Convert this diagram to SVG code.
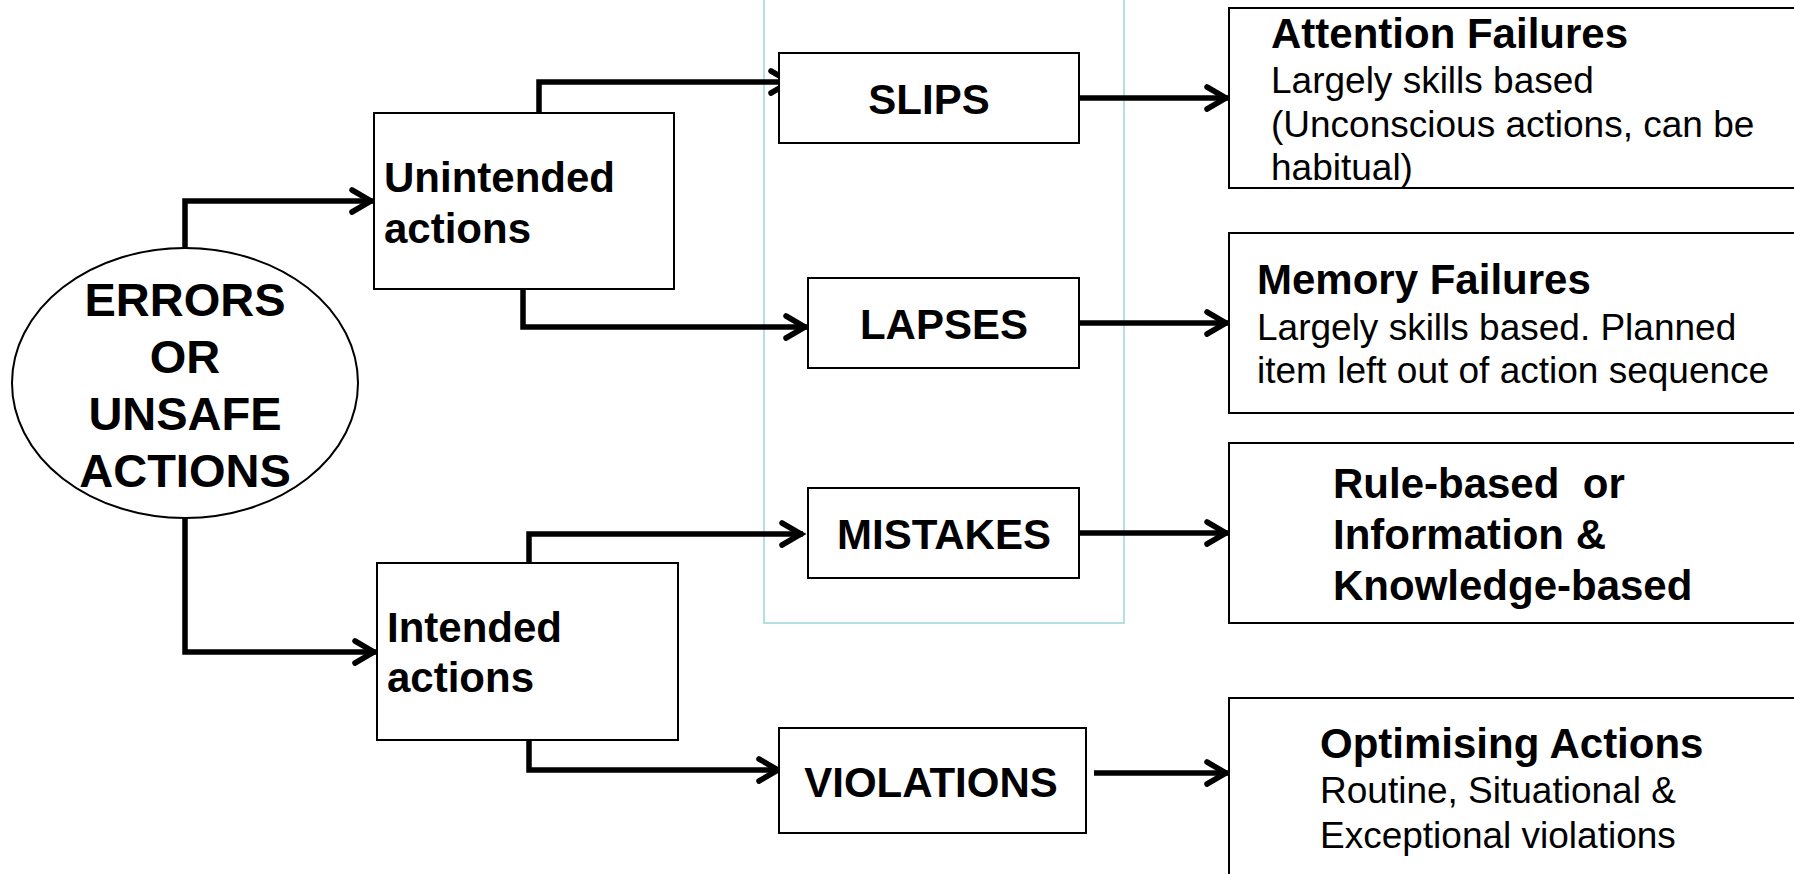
<svg xmlns="http://www.w3.org/2000/svg" width="1794" height="874" viewBox="0 0 1794 874">
  <style>
    .box { fill: #ffffff; stroke: #000000; stroke-width: 2; }
    .frame { fill: none; stroke: #b4dfe3; stroke-width: 2; }
    .wire { fill: none; stroke: #000000; stroke-width: 5.5; stroke-linejoin: miter; }
    .t { font-family: "Liberation Sans", Arial, sans-serif; fill: #000000; }
    .big { font-size: 47px; font-weight: bold; }
    .head { font-size: 42px; font-weight: bold; }
    .body { font-size: 37px; }
    .pre { white-space: pre; }
  </style>
  <defs>
    <marker id="chevron" markerUnits="userSpaceOnUse" markerWidth="30" markerHeight="30" viewBox="-26 -15 30 30" refX="0" refY="0" orient="auto" overflow="visible">
      <path d="M-21,-11 L-2,0 L-21,11" fill="none" stroke="#000000" stroke-width="5.5" stroke-linecap="round" stroke-linejoin="miter"/>
    </marker>
  </defs>

  <rect width="1794" height="874" fill="#ffffff"/>

  <!-- grouping frame around the slips / lapses / mistakes column -->
  <rect class="frame" x="764" y="-10" width="360" height="633"/>

  <!-- connectors -->
  <g id="connectors">
    <path class="wire" d="M185,248 V201 H373" marker-end="url(#chevron)"/>
    <path class="wire" d="M185,518 V652 H376" marker-end="url(#chevron)"/>
    <path class="wire" d="M539,113 V82 H792" marker-end="url(#chevron)"/>
    <path class="wire" d="M523,289 V327 H807" marker-end="url(#chevron)"/>
    <path class="wire" d="M529,563 V534 H803" marker-end="url(#chevron)"/>
    <path class="wire" d="M529,740 V770 H780" marker-end="url(#chevron)"/>
    <path class="wire" d="M1078,98 H1228" marker-end="url(#chevron)"/>
    <path class="wire" d="M1078,323 H1228" marker-end="url(#chevron)"/>
    <path class="wire" d="M1078,533 H1228" marker-end="url(#chevron)"/>
    <path class="wire" d="M1094,773 H1228" marker-end="url(#chevron)"/>
  </g>

  <g id="errors">
    <ellipse class="box" cx="185" cy="383" rx="173" ry="135" stroke-width="1.8"/>
    <text class="t big" x="185" y="316" text-anchor="middle">ERRORS</text>
    <text class="t big" x="185" y="373" text-anchor="middle">OR</text>
    <text class="t big" x="185" y="430" text-anchor="middle">UNSAFE</text>
    <text class="t big" x="185" y="487" text-anchor="middle">ACTIONS</text>
  </g>

  <g id="unintended">
    <rect class="box" x="374" y="113" width="300" height="176"/>
    <text class="t head" x="384" y="192">Unintended</text>
    <text class="t head" x="384" y="243">actions</text>
  </g>

  <g id="intended">
    <rect class="box" x="377" y="563" width="301" height="177"/>
    <text class="t head" x="387" y="642">Intended</text>
    <text class="t head" x="387" y="692">actions</text>
  </g>

  <g id="slips">
    <rect class="box" x="779" y="53" width="300" height="90"/>
    <text class="t head" x="929" y="114" text-anchor="middle">SLIPS</text>
  </g>

  <g id="lapses">
    <rect class="box" x="808" y="278" width="271" height="90"/>
    <text class="t head" x="944" y="339" text-anchor="middle">LAPSES</text>
  </g>

  <g id="mistakes">
    <rect class="box" x="808" y="488" width="271" height="90"/>
    <text class="t head" x="944" y="549" text-anchor="middle">MISTAKES</text>
  </g>

  <g id="violations">
    <rect class="box" x="779" y="728" width="307" height="105"/>
    <text class="t head" x="931" y="797" text-anchor="middle">VIOLATIONS</text>
  </g>

  <g id="attention">
    <rect class="box" x="1229" y="8" width="600" height="180"/>
    <text class="t head" x="1271" y="48">Attention Failures</text>
    <text class="t body" x="1271" y="93">Largely skills based</text>
    <text class="t body" x="1271" y="137">(Unconscious actions, can be</text>
    <text class="t body" x="1271" y="180">habitual)</text>
  </g>

  <g id="memory">
    <rect class="box" x="1229" y="233" width="600" height="180"/>
    <text class="t head" x="1257" y="294">Memory Failures</text>
    <text class="t body" x="1257" y="340">Largely skills based. Planned</text>
    <text class="t body" x="1257" y="383">item left out of action sequence</text>
  </g>

  <g id="rule-knowledge">
    <rect class="box" x="1229" y="443" width="600" height="180"/>
    <text class="t head pre" x="1333" y="498">Rule-based  or</text>
    <text class="t head" x="1333" y="549">Information &amp;</text>
    <text class="t head" x="1333" y="600">Knowledge-based</text>
  </g>

  <g id="optimising">
    <rect class="box" x="1229" y="698" width="600" height="200"/>
    <text class="t head" x="1320" y="758">Optimising Actions</text>
    <text class="t body" x="1320" y="803">Routine, Situational &amp;</text>
    <text class="t body" x="1320" y="848">Exceptional violations</text>
  </g>
</svg>
